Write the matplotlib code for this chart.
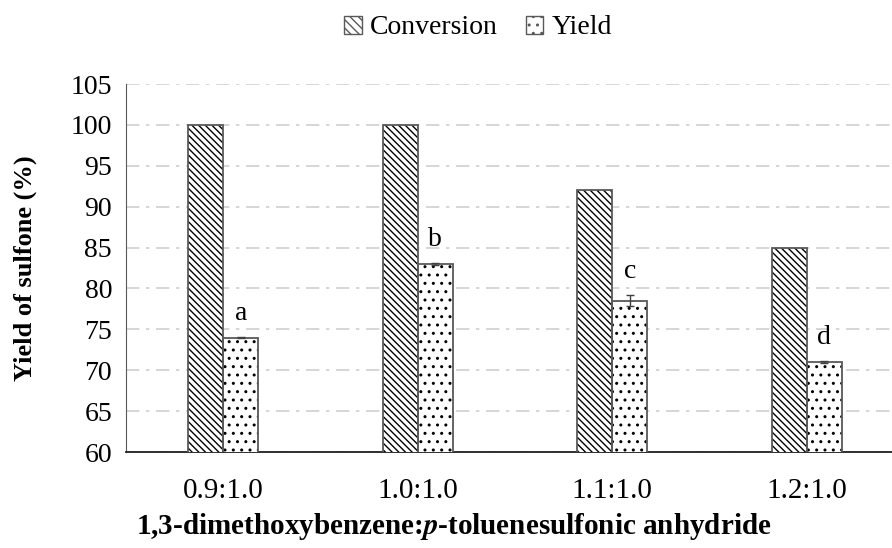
import matplotlib.pyplot as plt
import numpy as np

plt.rcParams['font.family'] = ['Liberation Serif', 'DejaVu Serif']
plt.rcParams['mathtext.fontset'] = 'stix'
plt.rcParams['hatch.linewidth'] = 1.0

ratios = ['0.9:1.0', '1.0:1.0', '1.1:1.0', '1.2:1.0']
conversion = [100, 100, 92, 85]
yield_ = [74, 83, 78.5, 71]
yield_err = [0.1, 0.15, 0.7, 0.15]
letters = ['a', 'b', 'c', 'd']

fig = plt.figure(figsize=(8.92, 5.48), dpi=100)
# axes runs slightly past the right edge of the figure
ax = fig.add_axes([126/892, 1-452/548, 778/892, 368/548])

x = np.arange(len(ratios))
w = 0.18
edge = '#595959'

# black hatch fill, then a grey outline on top
ax.bar(x - w/2, conversion, w, color='white', edgecolor='black',
       hatch='\\\\\\\\\\', linewidth=0, zorder=3)
ax.bar(x + w/2, yield_, w, color='white', edgecolor='black',
       hatch='..', linewidth=0, zorder=3)
ax.bar(x - w/2, conversion, w, fill=False, edgecolor=edge, linewidth=1.3, zorder=3)
ax.bar(x + w/2, yield_, w, fill=False, edgecolor=edge, linewidth=1.3, zorder=3)
ax.errorbar(x + w/2, yield_, yerr=yield_err, fmt='none', ecolor='#404040',
            elinewidth=1, capsize=3, zorder=4)

for xi, yi, e, t in zip(x, yield_, yield_err, letters):
    ax.text(xi + w/2, yi + e + 1.3, t, ha='center', va='bottom', fontsize=20)

ax.set_xlim(-0.5, len(ratios) - 0.5)
ax.set_ylim(60, 105)
ax.set_yticks(np.arange(60, 106, 5))
ax.set_xticks(x)
ax.set_xticklabels(ratios)
ax.tick_params(axis='y', labelsize=20, length=0, pad=10)
ax.tick_params(axis='x', labelsize=21, length=0, pad=19)

ax.grid(axis='y', color='#d0d0d0', linestyle=(0, (8, 4, 2, 4)), linewidth=1.2, zorder=0)
for s in ['top', 'right']:
    ax.spines[s].set_visible(False)
ax.spines['left'].set_color('#595959')
ax.spines['bottom'].set_color('#202020')
ax.spines['bottom'].set_linewidth(1.3)

ax.set_ylabel('Yield of sulfone (%)', fontsize=19, fontweight='bold')
ax.yaxis.set_label_coords(-(126 - 25) / 778, 0.5)
ax.set_xlabel('1,3-dimethoxybenzene:$\\mathbfit{p}$-toluenesulfonic anhydride',
              fontsize=21, fontweight='bold')
ax.xaxis.set_label_coords((454 - 126) / 778, -(527 - 452) / 368)
ax.xaxis.label.set_va('center')
ax.yaxis.label.set_va('center')

conv_handle = plt.Rectangle((0, 0), 1, 1, facecolor='white', edgecolor=edge,
                            hatch='\\\\\\\\', linewidth=1)
yield_handle = plt.Rectangle((0, 0), 1, 1, facecolor='white', edgecolor=edge,
                             hatch='..', linewidth=1)
fig.legend([conv_handle, yield_handle], ['Conversion', 'Yield'],
           loc='center', bbox_to_anchor=(478 / 892, 1 - 28 / 548), ncol=2,
           frameon=False, fontsize=20, handlelength=0.62, handleheight=0.62,
           handletextpad=0.3, columnspacing=1.0)

fig.savefig('out.png', dpi=100)
